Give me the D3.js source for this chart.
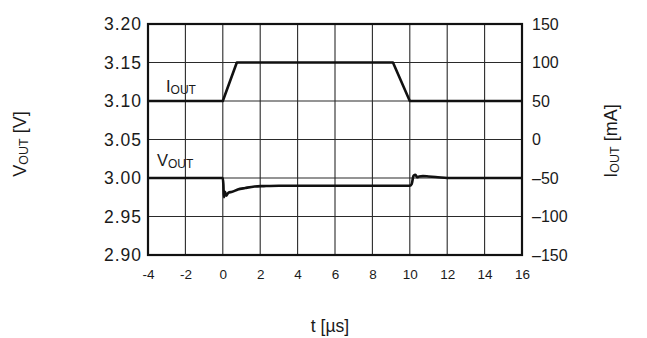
<!DOCTYPE html>
<html><head><meta charset="utf-8">
<script src="https://cdn.jsdelivr.net/npm/d3@7"></script>
<style>
body{margin:0;background:#fff;}
text{font-family:"Liberation Sans",Arial,sans-serif;fill:#1a1a1a;}
</style></head>
<body>
<svg id="chart" width="647" height="338"></svg>
<script>
// ---- data ----
const xTicks = [-4, -2, 0, 2, 4, 6, 8, 10, 12, 14, 16];
const vTicks = [2.90, 2.95, 3.00, 3.05, 3.10, 3.15, 3.20];
const iTicks = [-150, -100, -50, 0, 50, 100, 150];

const tIout = [-4, 0, 0.75, 9.1, 10.0, 16];
const iout  = [50, 50, 100, 100, 50, 50];

const tVout = [-4, 0, 0.03, 0.06, 0.12, 0.18, 0.3, 0.5, 0.8, 1.2, 1.7, 2.2, 3, 10.0, 10.1, 10.2, 10.3, 10.4, 10.5, 10.7, 11.0, 11.5, 12, 16];
const vout  = [3.000, 3.000, 2.992, 2.975, 2.982, 2.977, 2.981, 2.982, 2.985, 2.987, 2.989, 2.9895, 2.990, 2.990, 2.992, 3.003, 3.004, 3.001, 3.002, 3.0025, 3.002, 3.001, 3.000, 3.000];

// ---- layout ----
const L = 148, R = 522, T = 24, B = 255;
const svg = d3.select("#chart");

const x = d3.scaleLinear().domain([-4, 16]).range([L, R]);
const yV = d3.scaleLinear().domain([2.90, 3.20]).range([B, T]);
const yI = d3.scaleLinear().domain([-150, 150]).range([B, T]);

// grid
const g = svg.append("g");
g.selectAll("line.vx").data(xTicks).join("line")
  .attr("x1", d => x(d)).attr("x2", d => x(d)).attr("y1", T).attr("y2", B)
  .attr("stroke", "#2a2a2a").attr("stroke-width", 1.1);
g.selectAll("line.hy").data(vTicks).join("line")
  .attr("x1", L).attr("x2", R).attr("y1", d => yV(d)).attr("y2", d => yV(d))
  .attr("stroke", "#2a2a2a").attr("stroke-width", 1.1);

// frame
svg.append("rect").attr("x", L).attr("y", T).attr("width", R - L).attr("height", B - T)
  .attr("fill", "none").attr("stroke", "#111").attr("stroke-width", 2.2);

// axes (labels only; grid drawn above)
const axL = d3.axisLeft(yV).tickValues(vTicks).tickSize(0).tickPadding(6).tickFormat(d3.format(".2f"));
const gl = svg.append("g").attr("transform", `translate(${L},0)`).call(axL);
gl.select(".domain").remove();
gl.selectAll("text").attr("font-size", 17.5).attr("letter-spacing", 1)
  .attr("font-family", "Liberation Sans, Arial, sans-serif").attr("fill", "#1a1a1a");

const axR = d3.axisRight(yI).tickValues(iTicks).tickSize(0).tickPadding(10)
  .tickFormat(d => d < 0 ? "\u2013" + Math.abs(d) : String(d));
const gr = svg.append("g").attr("transform", `translate(${R},0)`).call(axR);
gr.select(".domain").remove();
gr.selectAll("text").attr("font-size", 16)
  .attr("font-family", "Liberation Sans, Arial, sans-serif").attr("fill", "#1a1a1a");

const axB = d3.axisBottom(x).tickValues(xTicks).tickSize(0).tickPadding(14)
  .tickFormat(d => d < 0 ? "-" + Math.abs(d) : String(d));
const gb = svg.append("g").attr("transform", `translate(0,${B})`).call(axB);
gb.select(".domain").remove();
gb.selectAll("text").attr("font-size", 13.5)
  .attr("font-family", "Liberation Sans, Arial, sans-serif").attr("fill", "#1a1a1a");

// data lines
const lineI = d3.line().x((d, i) => x(tIout[i])).y(d => yI(d));
svg.append("path").attr("d", lineI(iout)).attr("fill", "none")
  .attr("stroke", "#111").attr("stroke-width", 2.6).attr("stroke-linejoin", "round");

const lineV = d3.line().x((d, i) => x(tVout[i])).y(d => yV(d)).curve(d3.curveMonotoneX);
svg.append("path").attr("d", lineV(vout)).attr("fill", "none")
  .attr("stroke", "#111").attr("stroke-width", 2.6).attr("stroke-linejoin", "round");

// series labels
function subLabel(sel, main, sub, size, subSize) {
  sel.append("tspan").text(main).attr("font-size", size);
  sel.append("tspan").text(sub).attr("font-size", subSize).attr("dy", 2);
}
subLabel(svg.append("text").attr("x", 166).attr("y", 92), "I", "OUT", 16.5, 12);
subLabel(svg.append("text").attr("x", 157).attr("y", 166), "V", "OUT", 16.5, 12);

// axis titles
const lt = svg.append("text").attr("transform", "translate(26,144) rotate(-90)").attr("text-anchor", "middle");
lt.append("tspan").text("V").attr("font-size", 18);
lt.append("tspan").text("OUT").attr("font-size", 12.5).attr("dy", 2);
lt.append("tspan").text(" [V]").attr("font-size", 18).attr("dy", -2);

const rt = svg.append("text").attr("transform", "translate(617,141) rotate(-90)").attr("text-anchor", "middle");
rt.append("tspan").text("I").attr("font-size", 18);
rt.append("tspan").text("OUT").attr("font-size", 12.5).attr("dy", 2);
rt.append("tspan").text(" [mA]").attr("font-size", 18).attr("dy", -2);

svg.append("text").attr("x", 330).attr("y", 332).attr("text-anchor", "middle")
  .attr("font-size", 17.5).text("t [\u00b5s]");
</script>
</body></html>
